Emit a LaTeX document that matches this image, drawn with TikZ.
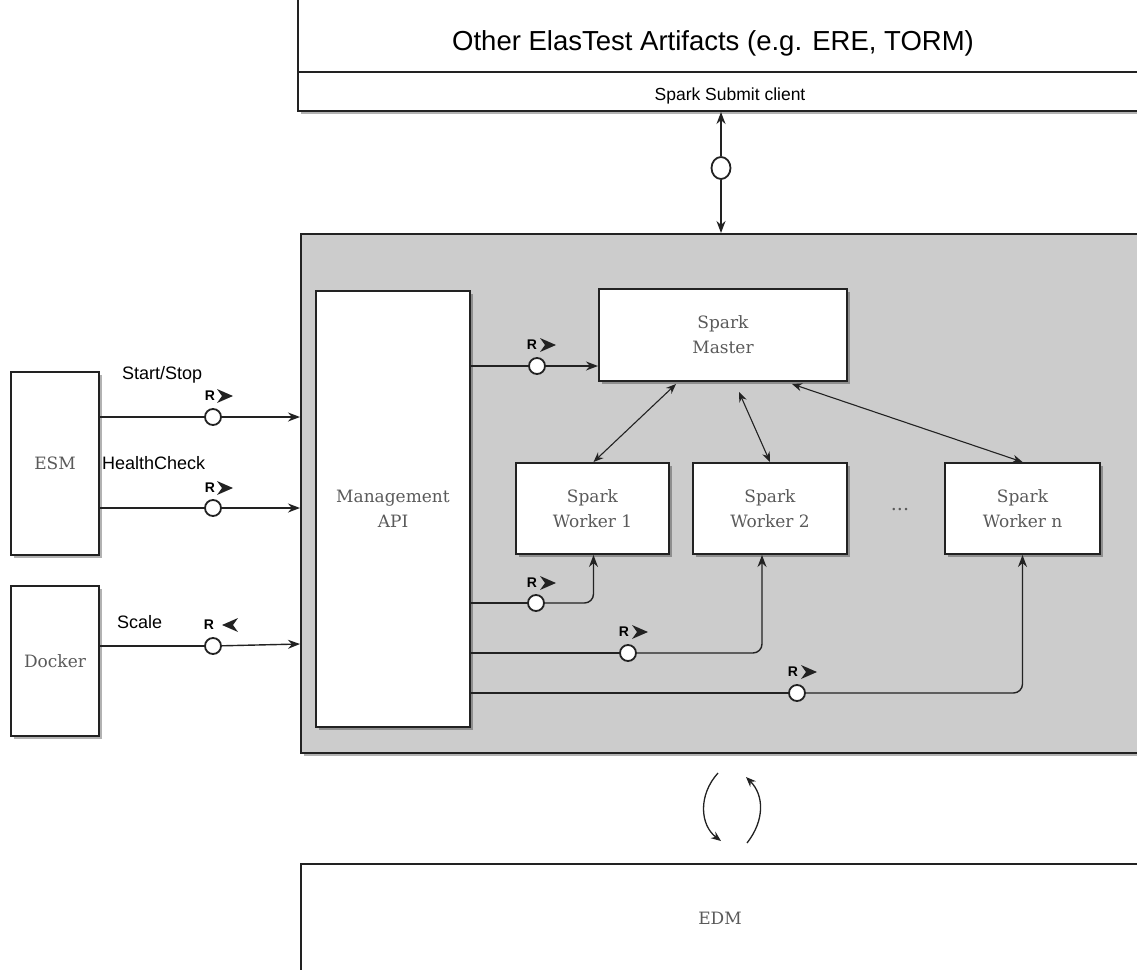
\documentclass[tikz,border=0pt]{standalone}
\usepackage{fontspec}
\setmainfont{Liberation Sans}
\newfontfamily\serifbox{DejaVu Serif}
\usetikzlibrary{arrows.meta,shadows,calc,shapes.geometric}
\definecolor{sysgray}{HTML}{CCCCCC}
\definecolor{edgecol}{HTML}{222222}
\definecolor{txtgray}{HTML}{5A5A5A}
\tikzset{
  box/.style={draw=edgecol, line width=2pt, fill=white,
    drop shadow={shadow xshift=3pt, shadow yshift=-3pt, fill=black, opacity=0.3},
    inner sep=0pt, font=\serifbox\fontsize{17}{25}\selectfont, text=txtgray, align=center},
  conn/.style={draw=edgecol, line width=1.4pt},
  arrowend/.style={-{Stealth[length=12pt,width=9pt]}},
  twoway/.style={{Stealth[length=10pt,width=8pt]}-{Stealth[length=10pt,width=8pt]}},
  port/.style={circle, draw=edgecol, line width=1.8pt, fill=white, minimum size=16pt, inner sep=0pt},
  rlab/.style={font=\bfseries\fontsize{14}{14}\selectfont, inner sep=0pt},
  lab/.style={font=\fontsize{18}{18}\selectfont, inner sep=0pt},
  chev/.style={fill=edgecol},
}
\newcommand\rmarker[5]{% name, x, y, chevron offset, direction
  \node[rlab] (#1) at (#2,#3) {R};
  \fill[chev, shift={(#2+#4,#3)}, xscale=#5] (8,0) -- (-8,-7) -- (-3,0) -- (-8,7) -- cycle;
}
\begin{document}
\begin{tikzpicture}[x=1pt,y=-1pt]
\useasboundingbox (0,0) rectangle (1137,969);
\begin{scope}
\clip (0,0) rectangle (1137,969);

% top box
\node[box, anchor=north west, minimum width=870pt, minimum height=125pt] (top) at (297,-15) {};
\coordinate (divL) at (297,72);
\draw[draw=edgecol, line width=1.8pt] (divL) -- (divL -| top.east);
\node[font=\fontsize{27.5}{27.5}\selectfont, inner sep=0pt] (title) at (713,43) {Other ElasTest Artifacts (e.g. ERE, TORM)};
\node[font=\fontsize{17.5}{17.5}\selectfont, inner sep=0pt] (submit) at (730,96) {Spark Submit client};

% system box
\node[box, fill=sysgray, anchor=north west, minimum width=860pt, minimum height=519pt] (sys) at (300,233) {};
\node[box, anchor=north west, minimum width=154pt, minimum height=436pt] (mgmt) at (315,290) {Management\\API};
\node[box, anchor=north west, minimum width=248pt, minimum height=92pt] (master) at (598,288) {Spark\\Master};
\node[box, anchor=north west, minimum width=153pt, minimum height=91pt] (w1) at (515,462) {Spark\\Worker 1};
\node[box, anchor=north west, minimum width=154pt, minimum height=91pt] (w2) at (692,462) {Spark\\Worker 2};
\node[box, anchor=north west, minimum width=155pt, minimum height=91pt] (wn) at (944,462) {Spark\\Worker n};
\node[font=\serifbox\fontsize{19}{19}\selectfont, text=txtgray, inner sep=0pt] (dots) at (900,510) {...};

% left boxes
\node[box, anchor=north west, minimum width=88pt, minimum height=183pt] (esm) at (10,371) {ESM};
\node[box, anchor=north west, minimum width=88pt, minimum height=150pt] (docker) at (10,585) {Docker};

% EDM
\node[box, anchor=north west, minimum width=860pt, minimum height=130pt] (edm) at (300,863) {};
\node[font=\serifbox\fontsize{17}{17}\selectfont, text=txtgray, inner sep=0pt] (edmlabel) at (720,918) {EDM};

% top connector
\node[ellipse, draw=edgecol, line width=1.8pt, fill=white, minimum width=19pt, minimum height=22pt, inner sep=0pt] (pTop) at (721,168) {};
\draw[conn, arrowend] (pTop.north) -- (pTop.north |- top.south);
\draw[conn, arrowend] (pTop.south) -- (pTop.south |- sys.north);

% ESM / Docker connectors
\node[lab, anchor=west] (lSS) at (122,375) {Start/Stop};
\node[lab, anchor=west] (lHC) at (102,463) {HealthCheck};
\node[lab, anchor=west] (lSc) at (117,622) {Scale};

\node[port] (pSS) at (213,417) {};
\draw[conn] (esm.east |- pSS) -- (pSS);
\draw[conn, arrowend] (pSS) -- (pSS -| sys.west);
\rmarker{rSS}{210}{396}{15}{1}

\node[port] (pHC) at (213,508) {};
\draw[conn] (esm.east |- pHC) -- (pHC);
\draw[conn, arrowend] (pHC) -- (pHC -| sys.west);
\rmarker{rHC}{210}{488}{15}{1}

\node[port] (pSc) at (213,646) {};
\draw[conn] (docker.east |- pSc) -- (pSc);
\draw[conn, arrowend] (pSc) -- ($(pSc -| sys.west)+(0,-2)$);
\rmarker{rSc}{209}{625}{21}{-1}

% Management API -> Master
\node[port] (pM) at (537,366) {};
\draw[conn] (mgmt.east |- pM) -- (pM);
\draw[conn, arrowend] (pM) -- (pM -| master.west);
\rmarker{rM}{532}{345}{16}{1}

% Management API -> workers
\node[port] (pW1) at (536,603) {};
\draw[conn] (mgmt.east |- pW1) -- (pW1);
\draw[conn, arrowend, rounded corners=9pt] (pW1) -- ($(pW1 -| w1.south)+(1,0)$) -- ($(w1.south)+(1,0)$);
\rmarker{rW1}{532}{583}{16}{1}

\node[port] (pW2) at (628,653) {};
\draw[conn] (mgmt.east |- pW2) -- (pW2);
\draw[conn, arrowend, rounded corners=9pt] (pW2) -- ($(pW2 -| w2.south)+(-8,0)$) -- ($(w2.south)+(-8,0)$);
\rmarker{rW2}{624}{632}{16}{1}

\node[port] (pWn) at (797,693) {};
\draw[conn] (mgmt.east |- pWn) -- (pWn);
\draw[conn, arrowend, rounded corners=9pt] (pWn) -- (pWn -| wn.south) -- (wn.south);
\rmarker{rWn}{793}{672}{16}{1}

% Master <-> workers
\draw[draw=edgecol, line width=1.1pt, twoway] ($(master.south)+(-47,2)$) -- ($(w1.north)+(1,0)$);
\draw[draw=edgecol, line width=1.1pt, twoway] ($(master.south)+(16,10)$) -- ($(w2.north)+(0,0)$);
\draw[draw=edgecol, line width=1.1pt, twoway] ($(master.south)+(69,2)$) -- (wn.north);

% exchange with EDM
\coordinate (aS) at (718,773);
\coordinate (aE) at (721,841);
\coordinate (bS) at (747,843);
\coordinate (bE) at (746,777);
\draw[draw=edgecol, line width=1.3pt, -{Stealth[length=10pt,width=8pt]}] (aS) .. controls (698,795) and (700,825) .. (aE);
\draw[draw=edgecol, line width=1.3pt, -{Stealth[length=10pt,width=8pt]}] (bS) .. controls (765,820) and (764,795) .. (bE);
\end{scope}
\end{tikzpicture}
\end{document}
